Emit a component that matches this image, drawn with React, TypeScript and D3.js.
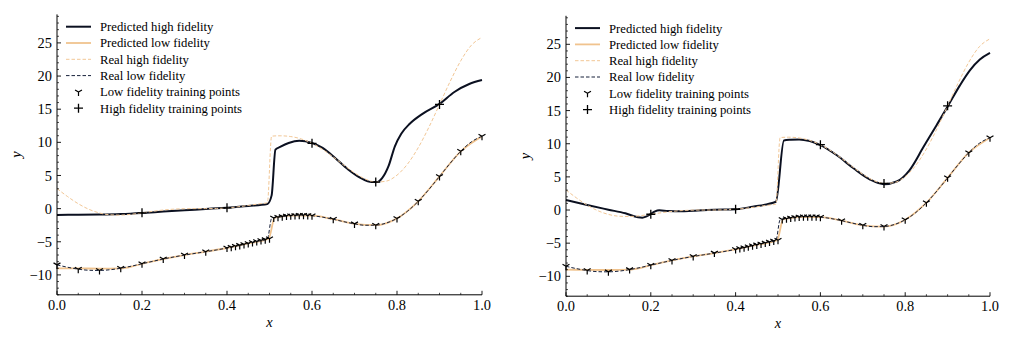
import React from "react";
import * as d3 from "d3";

// ---------- data ----------
const xTicks = [0, 0.2, 0.4, 0.6, 0.8, 1.0];
const yTicks = [-10, -5, 0, 5, 10, 15, 20, 25];

const legendLabels = [
  "Predicted high fidelity",
  "Predicted low fidelity",
  "Real high fidelity",
  "Real low fidelity",
  "Low fidelity training points",
  "High fidelity training points",
];

const realX = [0, 0.025, 0.05, 0.075, 0.1, 0.125, 0.15, 0.175, 0.2, 0.225, 0.25, 0.275, 0.3, 0.325, 0.35, 0.375, 0.4, 0.425, 0.45, 0.475, 0.495, 0.505, 0.525, 0.55, 0.575, 0.6, 0.625, 0.65, 0.675, 0.7, 0.725, 0.75, 0.775, 0.8, 0.825, 0.85, 0.875, 0.9, 0.925, 0.95, 0.975, 1.0];
const realHigh = [3.027, 1.813, 0.739, -0.1, -0.657, -0.935, -0.978, -0.854, -0.64, -0.407, -0.21, -0.079, -0.016, 0.0, 0.002, 0.03, 0.115, 0.27, 0.483, 0.717, 0.877, 10.936, 10.986, 10.871, 10.503, 9.851, 8.926, 7.791, 6.561, 5.394, 4.478, 4.007, 4.155, 5.051, 6.746, 9.202, 12.272, 15.712, 19.174, 22.303, 24.647, 25.83];
const realLow = [-8.486, -8.843, -9.131, -9.3, -9.328, -9.218, -8.989, -8.677, -8.32, -7.954, -7.605, -7.29, -7.008, -6.75, -6.499, -6.235, -5.943, -5.615, -5.259, -4.892, -4.612, -1.482, -1.257, -1.064, -0.999, -1.075, -1.287, -1.604, -1.969, -2.303, -2.511, -2.497, -2.172, -1.475, -0.377, 1.101, 2.886, 4.856, 6.837, 8.652, 10.074, 10.915];

const predLowX = [0, 0.05, 0.1, 0.15, 0.175, 0.2, 0.225, 0.25, 0.3, 0.35, 0.4, 0.45, 0.498, 0.512, 0.525, 0.55, 0.6, 0.65, 0.7, 0.75, 0.8, 0.85, 0.9, 0.95, 1.0];
const predLow = [-9.0, -9.02, -9.05, -9.0, -8.75, -8.32, -7.95, -7.6, -7.0, -6.5, -5.94, -5.26, -4.55, -1.4, -1.25, -1.06, -1.07, -1.6, -2.3, -2.5, -1.47, 1.1, 4.86, 8.65, 10.9];

const predHighLeftX = [0, 0.05, 0.1, 0.15, 0.2, 0.25, 0.3, 0.35, 0.4, 0.45, 0.495, 0.505, 0.514, 0.525, 0.545, 0.57, 0.6, 0.625, 0.655, 0.685, 0.715, 0.74, 0.752, 0.765, 0.78, 0.795, 0.81, 0.83, 0.86, 0.9, 0.935, 0.97, 1.0];
const predHighLeft = [-0.95, -0.93, -0.9, -0.82, -0.66, -0.45, -0.25, -0.05, 0.15, 0.4, 0.7, 2.0, 8.9, 9.3, 9.9, 10.25, 9.9, 9.15, 7.6, 5.9, 4.6, 4.0, 4.0, 4.6, 6.4, 9.4, 11.3, 12.8, 14.3, 15.8, 17.6, 18.8, 19.4];

const predHighRightX = [0, 0.05, 0.1, 0.14, 0.17, 0.18, 0.19, 0.2, 0.21, 0.22, 0.24, 0.27, 0.3, 0.35, 0.4, 0.44, 0.495, 0.514, 0.53, 0.55, 0.575, 0.6, 0.638, 0.678, 0.717, 0.75, 0.78, 0.81, 0.843, 0.874, 0.9, 0.929, 0.953, 0.976, 1.0];
const predHighRight = [1.5, 0.75, 0.05, -0.5, -1.1, -1.15, -0.95, -0.6, -0.2, -0.05, -0.15, -0.2, -0.1, 0.05, 0.12, 0.5, 1.25, 10.5, 10.6, 10.65, 10.4, 9.8, 8.3, 6.3, 4.6, 3.9, 4.3, 6.0, 9.5, 12.8, 15.6, 18.8, 21.1, 22.7, 23.7];

const lfTrainX = [0, 0.05, 0.1, 0.15, 0.2, 0.25, 0.3, 0.35, 0.4, 0.41, 0.42, 0.43, 0.44, 0.45, 0.46, 0.47, 0.48, 0.49, 0.5, 0.51, 0.52, 0.53, 0.54, 0.55, 0.56, 0.57, 0.58, 0.59, 0.6, 0.65, 0.7, 0.75, 0.8, 0.85, 0.9, 0.95, 1.0];
const lfTrainY = [-8.486, -9.131, -9.328, -8.989, -8.32, -7.605, -7.008, -6.499, -5.943, -5.816, -5.683, -5.546, -5.404, -5.259, -5.112, -4.965, -4.82, -4.679, -4.545, -1.421, -1.309, -1.209, -1.128, -1.064, -1.022, -1.001, -1.002, -1.027, -1.075, -1.604, -2.303, -2.497, -1.475, 1.101, 4.856, 8.652, 10.915];

const hfTrainX = [0.2, 0.4, 0.6, 0.75, 0.9];
const hfTrainY = [-0.64, 0.115, 9.851, 4.007, 15.712];

// ---------- styles ----------
const C_HIGH = "#0b1020";
const C_LOW = "#f0c38e";
const C_REALHIGH = "#f2c796";
const C_REALLOW = "#17213b";
const FONT = "'Liberation Serif', 'Times New Roman', serif";

type Pt = [number, number];
const zip = (xs: number[], ys: number[]): Pt[] => xs.map((x, i) => [x, ys[i]]);

function TriDown({ cx, cy, r }: { cx: number; cy: number; r: number }) {
  const s = r * Math.sin(Math.PI / 3);
  const c = r * 0.5;
  return (
    <path
      d={`M${cx},${cy}L${cx},${cy + r}M${cx},${cy}L${cx - s},${cy - c}M${cx},${cy}L${cx + s},${cy - c}`}
      stroke="#000"
      strokeWidth={1.2}
      fill="none"
    />
  );
}

function Plus({ cx, cy, r }: { cx: number; cy: number; r: number }) {
  return (
    <path
      d={`M${cx - r},${cy}L${cx + r},${cy}M${cx},${cy - r}L${cx},${cy + r}`}
      stroke="#000"
      strokeWidth={1.3}
      fill="none"
    />
  );
}

function Panel({ left, right, top, bottom, predHigh }: { left: number; right: number; top: number; bottom: number; predHigh: Pt[] }) {
  const x = d3.scaleLinear().domain([0, 1]).range([left, right]);
  const y = d3.scaleLinear().domain([-13, 29.3]).range([bottom, top]);
  const line = d3
    .line<Pt>()
    .x((d) => x(d[0]))
    .y((d) => y(d[1]))
    .curve(d3.curveMonotoneX);

  const xMinor = d3.range(0, 1.0001, 0.05).filter((v) => !xTicks.some((t) => Math.abs(t - v) < 1e-6));
  const yMinor = d3.range(-13, 29.5, 1).filter((v) => v % 5 !== 0);

  const legTop = top + 12.3;
  const legStep = 16.3;
  const hx0 = left + 9;
  const hx1 = left + 34;
  const hxc = (hx0 + hx1) / 2;
  const tx = left + 43;

  return (
    <g>
      {/* curves */}
      <path d={line(predHigh) || ""} fill="none" stroke={C_HIGH} strokeWidth={2} />
      <path d={line(zip(predLowX, predLow)) || ""} fill="none" stroke={C_LOW} strokeWidth={1.8} />
      <path d={line(zip(realX, realHigh)) || ""} fill="none" stroke={C_REALHIGH} strokeWidth={1} strokeDasharray="3.5,2" />
      <path d={line(zip(realX, realLow)) || ""} fill="none" stroke={C_REALLOW} strokeWidth={1} strokeDasharray="3.5,2" />
      {lfTrainX.map((v, i) => (
        <TriDown key={"lf" + i} cx={x(v)} cy={y(lfTrainY[i])} r={4} />
      ))}
      {hfTrainX.map((v, i) => (
        <Plus key={"hf" + i} cx={x(v)} cy={y(hfTrainY[i])} r={4.5} />
      ))}

      {/* axes */}
      <line x1={left} x2={left} y1={top} y2={bottom} stroke="#000" strokeWidth={1} />
      <line x1={left} x2={right} y1={bottom} y2={bottom} stroke="#000" strokeWidth={1} />
      {xTicks.map((t) => (
        <g key={"xt" + t}>
          <line x1={x(t)} x2={x(t)} y1={bottom} y2={bottom - 4} stroke="#000" strokeWidth={0.9} />
          <text x={x(t)} y={bottom + 15} textAnchor="middle" fontFamily={FONT} fontSize={14.4} fill="#000">
            {t.toFixed(1)}
          </text>
        </g>
      ))}
      {xMinor.map((t, i) => (
        <line key={"xm" + i} x1={x(t)} x2={x(t)} y1={bottom} y2={bottom - 2} stroke="#000" strokeWidth={0.7} />
      ))}
      {yTicks.map((t) => (
        <g key={"yt" + t}>
          <line x1={left} x2={left + 4} y1={y(t)} y2={y(t)} stroke="#000" strokeWidth={0.9} />
          <text x={left - 5} y={y(t)} dy="0.35em" textAnchor="end" fontFamily={FONT} fontSize={14.4} fill="#000">
            {t < 0 ? "\u2212" + Math.abs(t) : String(t)}
          </text>
        </g>
      ))}
      {yMinor.map((t, i) => (
        <line key={"ym" + i} x1={left} x2={left + 2} y1={y(t)} y2={y(t)} stroke="#000" strokeWidth={0.7} />
      ))}
      <text x={(left + right) / 2} y={bottom + 32} textAnchor="middle" fontFamily={FONT} fontStyle="italic" fontSize={14.4} fill="#000">
        x
      </text>
      <text
        transform={`translate(${left - 40},${(top + bottom) / 2}) rotate(-90)`}
        textAnchor="middle"
        dy="0.3em"
        fontFamily={FONT}
        fontStyle="italic"
        fontSize={14.4}
        fill="#000"
      >
        y
      </text>

      {/* legend */}
      <g>
        <line x1={hx0} x2={hx1} y1={legTop} y2={legTop} stroke={C_HIGH} strokeWidth={2} />
        <line x1={hx0} x2={hx1} y1={legTop + legStep} y2={legTop + legStep} stroke={C_LOW} strokeWidth={1.8} />
        <line x1={hx0} x2={hx1} y1={legTop + 2 * legStep} y2={legTop + 2 * legStep} stroke={C_REALHIGH} strokeWidth={1} strokeDasharray="3.5,2" />
        <line x1={hx0} x2={hx1} y1={legTop + 3 * legStep} y2={legTop + 3 * legStep} stroke={C_REALLOW} strokeWidth={1} strokeDasharray="3.5,2" />
        <TriDown cx={hxc} cy={legTop + 4 * legStep} r={4} />
        <Plus cx={hxc} cy={legTop + 5 * legStep} r={4.5} />
        {legendLabels.map((l, i) => (
          <text key={l} x={tx} y={legTop + i * legStep} dy="0.35em" fontFamily={FONT} fontSize={12.7} fill="#000">
            {l}
          </text>
        ))}
      </g>
    </g>
  );
}

export default function App() {
  return (
    <svg width={1024} height={338} style={{ position: "absolute", left: 0, top: 0, background: "#fff" }}>
      <rect width={1024} height={338} fill="#fff" />
      <Panel left={57} right={482} top={14.4} bottom={294.8} predHigh={zip(predHighLeftX, predHighLeft)} />
      <Panel left={566} right={990} top={15.8} bottom={296.2} predHigh={zip(predHighRightX, predHighRight)} />
    </svg>
  );
}
